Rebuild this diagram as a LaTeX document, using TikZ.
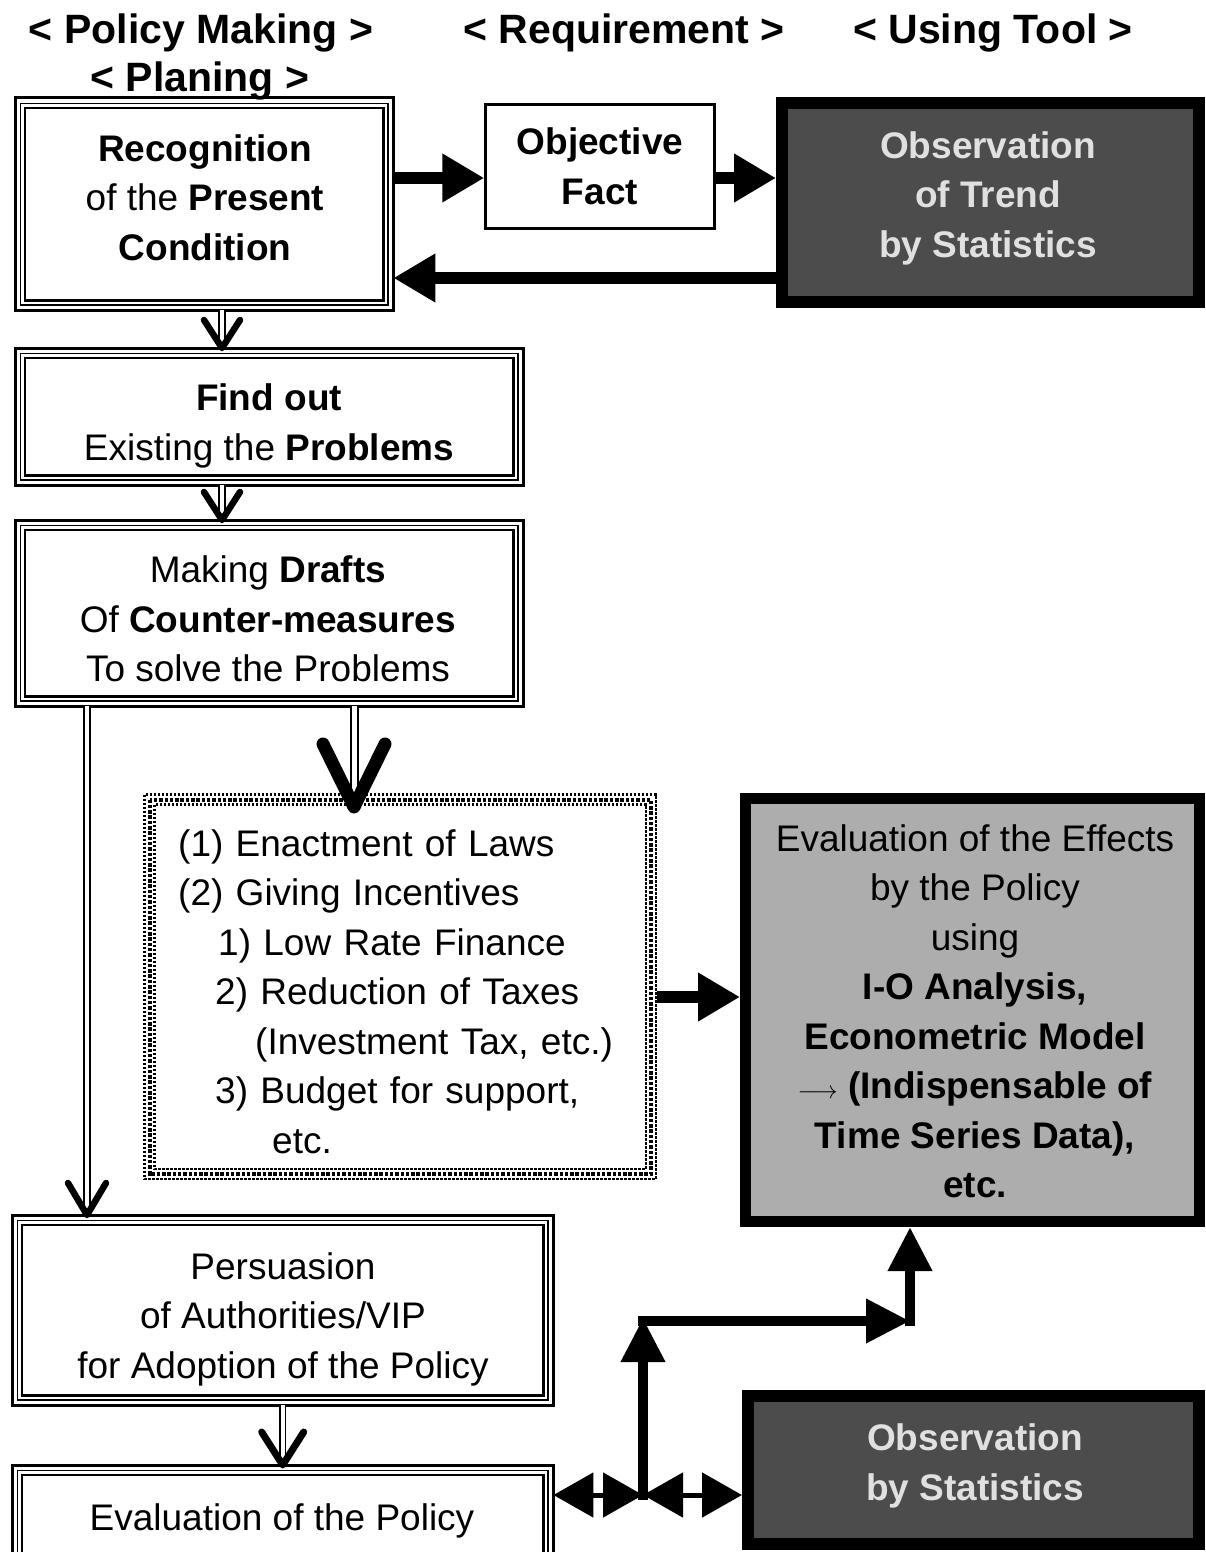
\documentclass[tikz,border=0pt]{standalone}
\usepackage{fontspec}
\setmainfont{Liberation Sans}
\usetikzlibrary{arrows.meta}

% thick-thin-thick frame round a named node
\newcommand{\triframe}[1]{%
  \draw[line width=3pt] (#1.north west) rectangle (#1.south east);
  \draw[line width=1.2pt] ([shift={(5.5,5.5)}]#1.north west) rectangle ([shift={(-5.5,-5.5)}]#1.south east);
  \draw[line width=2.6pt] ([shift={(10,10)}]#1.north west) rectangle ([shift={(-10,-10)}]#1.south east);
}
% band of dots round a named node
\newcommand{\dotframe}[1]{%
  \draw[black, line width=2.5pt, dash pattern=on 2.5pt off 1.5pt] ([shift={(1.5,1.5)}]#1.north west) rectangle ([shift={(-1.5,-1.5)}]#1.south east);
  \draw[black, line width=4pt, dash pattern=on 3.5pt off 1.8pt] ([shift={(6.5,6.5)}]#1.north west) rectangle ([shift={(-6.5,-6.5)}]#1.south east);
  \draw[black, line width=2.5pt, dash pattern=on 2.5pt off 1.5pt] ([shift={(11.5,11.5)}]#1.north west) rectangle ([shift={(-11.5,-11.5)}]#1.south east);
}
% open chevron head pointing down, tip at #1
\newcommand{\chev}[4]{%
  \draw[line width=#4, line cap=round, line join=round]
    ([shift={(-#2,-#3)}]#1) -- (#1) -- ([shift={(#2,-#3)}]#1);
}

\begin{document}
\begin{tikzpicture}[x=1pt,y=-1pt,
  body/.style={font=\fontsize{37}{49.5}\selectfont, align=center, inner sep=0pt},
  framed/.style={anchor=north west, inner sep=0pt},
  head/.style={font=\fontsize{41}{48}\selectfont\bfseries, inner sep=0pt},
  darkbox/.style={draw=black, line width=12pt, fill=black!70, inner sep=0pt},
  darktext/.style={body, text=black!12, font=\fontsize{37}{49.5}\selectfont\bfseries},
  greybox/.style={draw=black, line width=11pt, fill=black!32, inner sep=0pt},
  fat/.style={line width=12pt, -{Triangle[length=42pt,width=46pt]}},
  dshaft/.style={double, double distance=4pt, line width=1.6pt},
  bothways/.style={line width=5pt, {Triangle[length=40pt,width=44pt]}-{Triangle[length=40pt,width=44pt]}},
  upturn/.style={line width=10pt, -{Triangle[length=44pt,width=42pt]}},
]
\clip (0,0) rectangle (1205,1552);
\fill[white] (0,0) rectangle (1205,1552);

% column headings
\node[head] (hpol)  at (201,33) {< Policy Making >};
\node[head] (hreq)  at (624,33) {< Requirement >};
\node[head] (htool) at (993,33) {< Using Tool >};
\node[head] (hplan) at (200,81) {< Planing >};

% policy-making steps
\node[framed, minimum width=378pt, minimum height=212pt] (rec) at (15,98) {};
\triframe{rec}
\node[body] (rec-text) at (205,197.5)
  {\textbf{Recognition}\\of the \textbf{Present}\\\textbf{Condition}};

\node[framed, minimum width=508pt, minimum height=137pt] (find) at (15,348) {};
\triframe{find}
\node[body] (find-text) at (269,426)
  {\textbf{Find out}\\Existing the \textbf{Problems}};

\node[framed, minimum width=508pt, minimum height=186pt] (drafts) at (15,520) {};
\triframe{drafts}
\node[body] (drafts-text) at (268,619)
  {Making \textbf{Drafts}\\Of \textbf{Counter-measures}\\To solve the Problems};

\node[framed, minimum width=514pt, minimum height=387pt] (measures) at (143,793) {};
\dotframe{measures}
\node[body, anchor=west, text width=444pt, align=left] (measures-text) at (178,991.5)
  {(1) Enactment of Laws\\
   (2) Giving Incentives\\
   \hspace*{40pt}1) Low Rate Finance\\
   \hspace*{37pt}2) Reduction of Taxes\\
   \hspace*{77pt}(Investment Tax, etc.)\\
   \hspace*{37pt}3) Budget for support,\\
   \hspace*{94pt}etc.};

\node[framed, minimum width=541pt, minimum height=190pt] (pers) at (12,1215) {};
\triframe{pers}
\node[body] (pers-text) at (283,1319)
  {Persuasion\\of Authorities/VIP\\for Adoption of the Policy};

\node[framed, minimum width=541pt, minimum height=104pt] (evalpol) at (12,1465) {};
\triframe{evalpol}
\node[body] (evalpol-text) at (282,1521) {Evaluation of the Policy};

% requirement
\node[body, draw, line width=2.5pt, minimum width=229pt, minimum height=124pt,
  font=\fontsize{37}{49.5}\selectfont\bfseries] (obj) at (600,166.5) {Objective\\Fact};

% tools
\node[darkbox, minimum width=417pt, minimum height=199pt] (topobs) at (990.5,202.5) {};
\node[darktext] (topobs-text) at (988,198) {Observation\\of Trend\\by Statistics};

\node[greybox, minimum width=454pt, minimum height=423pt] (effects) at (972.5,1010) {};
\node[body] (effects-text) at (975,1011.5)
  {Evaluation of the Effects\\by the Policy\\using\\\textbf{I-O Analysis,}\\
   \textbf{Econometric Model}\\$\longrightarrow$ \textbf{(Indispensable of}\\
   \textbf{Time Series Data),}\\\textbf{etc.}};

\node[darkbox, minimum width=451pt, minimum height=148pt] (botobs) at (973.5,1470) {};
\node[darktext] (botobs-text) at (975,1466) {Observation\\by Statistics};

% connectors between the top row
\coordinate (r1) at (0,178);
\coordinate (r2) at (0,278);
\draw[fat] (rec.east |- r1) -- (obj.west |- r1);
\draw[fat] (obj.east |- r1) -- (topobs.west |- r1);
\draw[fat] (topobs.west |- r2) -- (rec.east |- r2);

% step to step arrows
\coordinate (v1) at (222,0);
\coordinate (t1) at (find.north -| v1);
\draw[dshaft] (rec.south -| v1) -- (t1);
\chev{t1}{18}{28}{6.5pt}
\coordinate (t2) at (drafts.north -| v1);
\draw[dshaft] (find.south -| v1) -- (t2);
\chev{t2}{18}{28}{6.5pt}

\coordinate (v2) at (354,0);
\path (measures.north -| v2) ++(0,14) coordinate (t3);
\draw[dshaft, double distance=5pt, line width=2pt] (drafts.south -| v2) -- (t3);
\chev{t3}{31}{63}{13pt}

\coordinate (v3) at (87,0);
\coordinate (t4) at (pers.north -| v3);
\draw[dshaft] (drafts.south -| v3) -- (t4);
\chev{t4}{19}{32}{6.5pt}

\coordinate (t5) at (evalpol.north);
\draw[dshaft] (pers.south) -- (t5);
\chev{t5}{21}{33}{7pt}

% measures to evaluation of effects
\coordinate (r3) at (0,997);
\draw[fat] (measures.east |- r3) -- (effects.west |- r3);

% evaluation loop at the bottom
\coordinate (j) at (643,1495);
\draw[bothways] (evalpol.east |- j) -- (j);
\draw[bothways] (j) -- (botobs.west |- j);
\coordinate (c2) at (643,1318);
\coordinate (c3) at (910,1321);
\draw[upturn] ([shift={(0,5)}]j) -- (c2);
\draw[upturn] ([shift={(-5,3)}]c2) -- (c3);
\draw[upturn] ([shift={(0,5)}]c3) -- (effects.south -| c3);
\end{tikzpicture}
\end{document}
